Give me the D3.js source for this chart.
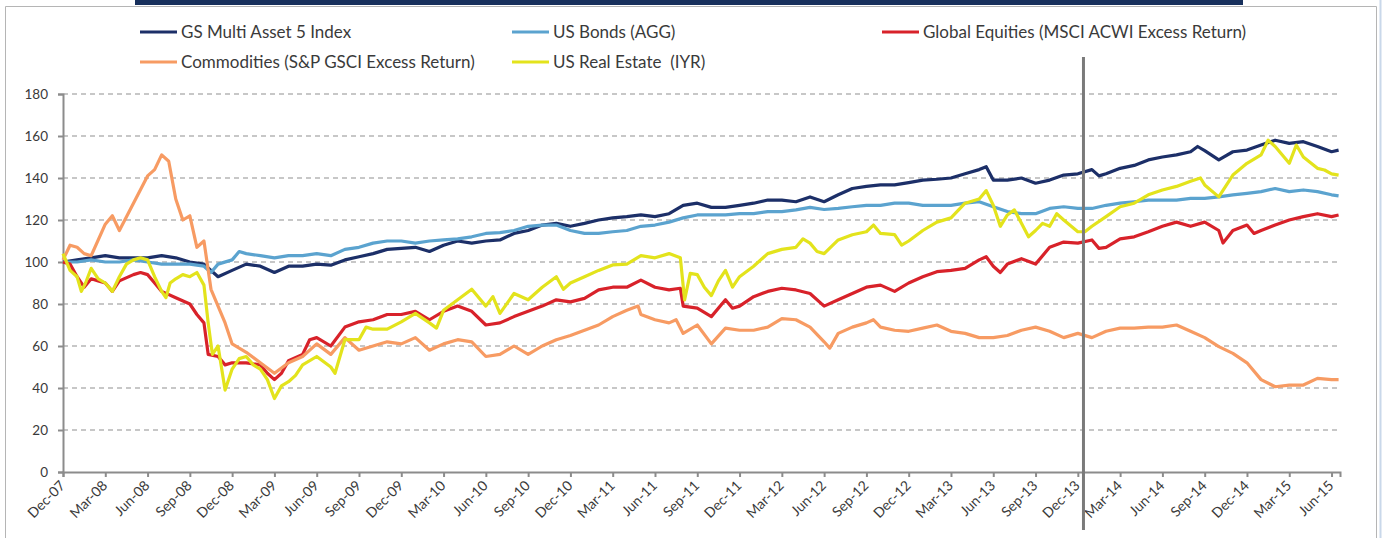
<!DOCTYPE html>
<html>
<head>
<meta charset="utf-8">
<script src="https://cdn.jsdelivr.net/npm/d3@7"></script>
<style>
  html, body { margin: 0; padding: 0; background: #fff; overflow: hidden; }
  svg { display: block; font-family: Lato, "Liberation Sans", sans-serif; }
</style>
</head>
<body>
<div id="chart"></div>
<script>
// month index 0 = Dec-07, quarterly ticks
const tickLabels = ["Dec-07", "Mar-08", "Jun-08", "Sep-08", "Dec-08", "Mar-09", "Jun-09", "Sep-09",
  "Dec-09", "Mar-10", "Jun-10", "Sep-10", "Dec-10", "Mar-11", "Jun-11", "Sep-11", "Dec-11",
  "Mar-12", "Jun-12", "Sep-12", "Dec-12", "Mar-13", "Jun-13", "Sep-13", "Dec-13", "Mar-14",
  "Jun-14", "Sep-14", "Dec-14", "Mar-15", "Jun-15"];
const yTicks = [0, 20, 40, 60, 80, 100, 120, 140, 160, 180];
const liveStart = 72.4; // vertical divider, month index

const seriesNames = ["GS Multi Asset 5 Index", "US Bonds (AGG)", "Global Equities (MSCI ACWI Excess Return)",
  "Commodities (S&P GSCI Excess Return)", "US Real Estate  (IYR)"];

const gsMulti = [[0,100],[1,101],[2,102],[3,103],[4,102],[5,102],[6,102],[7,103],[8,102],[9,100],[10,99],[11,93],[12,96],[13,99],[14,98],[15,95],[16,98],[17,98],[18,99],[19,98.5],[20,101],[21,102.5],[22,104],[23,106],[24,106.5],[25,107],[26,105],[27,108],[28,110],[29,109],[30,110],[31,110.5],[32,113.6],[33,115],[34,117.6],[35,118.4],[36,117],[37,118.4],[38,120],[39,121],[40,121.6],[41,122.4],[42,121.6],[43,123],[44,127],[45,128],[46,126],[47,126],[48,127],[49,128],[50,129.5],[51,129.5],[52,128.7],[53,131],[54,128.7],[55,132],[56,135],[57,136],[58,136.7],[59,136.7],[60,137.8],[61,139],[62,139.4],[63,140],[64,142],[65,144],[65.5,145.4],[66,139],[67,139],[68,140],[69,137.5],[70,139],[71,141.4],[72,142],[73,144],[73.5,141],[74,142],[75,144.6],[76,146],[77,148.6],[78,150],[79,151],[80,152.5],[80.5,155],[81,153],[82,148.6],[83,152.5],[84,153.3],[85,155.7],[86,158],[87,156.5],[88,157.3],[89,155],[90,152.5],[90.5,153.3]];

const usBonds = [[0,100],[1,100],[2,101],[3,100],[4,100],[5,101],[6,100],[7,99],[8,99],[9,99],[10,98],[10.5,95],[11,99],[12,101],[12.5,105],[13,104],[14,103],[15,102],[16,103],[17,103],[18,104],[19,103],[20,106],[21,107],[22,109],[23,110],[24,110],[25,109],[26,110],[27,110.5],[28,111],[29,112],[30,113.6],[31,114],[32,115],[33,117],[34,117.6],[35,117.6],[36,115],[37,113.6],[38,113.6],[39,114.4],[40,115],[41,117],[42,117.6],[43,119],[44,121],[45,122.4],[46,122.4],[47,122.4],[48,123],[49,123],[50,124],[51,124],[52,124.8],[53,126],[54,125],[55,125.5],[56,126.3],[57,127],[58,127],[59,128],[60,128],[61,127],[62,127],[63,127],[64,128],[65,128.7],[66,126.3],[67,124],[68,123],[69,123],[70,125.5],[71,126.3],[72,125.5],[73,125.5],[74,127],[75,128],[76,128.7],[77,129.5],[78,129.5],[79,129.5],[80,130.3],[81,130.3],[82,131],[83,132],[84,132.7],[85,133.5],[86,135],[87,133.5],[88,134.3],[89,133.5],[90,132],[90.5,131.5]];

const globalEquities = [[0,100],[0.5,99],[1,93],[1.5,88],[2,92],[2.5,91],[3,90],[3.5,86],[4,91],[5,94],[5.5,95],[6,94],[6.5,90],[7,86],[8,83],[9,80],[9.5,75],[10,71],[10.3,56],[11,55],[11.5,51],[12,52],[13,52],[14,51],[14.5,47],[15,44],[15.5,47],[16,53],[17,56],[17.5,63],[18,64],[19,60],[20,69],[21,71.5],[22,72.5],[23,75],[24,75],[25,76.5],[26,72.5],[27,76.5],[28,79],[29,76.5],[30,70],[31,71],[32,74],[33,76.5],[34,79],[35,82],[36,81],[37,82.7],[38,86.7],[39,88],[40,88],[41,91.4],[42,88],[43,86.7],[43.8,87.5],[44,79],[45,78],[46,74],[47,82],[47.5,78],[48,79],[49,83.5],[50,86],[51,87.5],[52,86.7],[53,85],[54,79],[55,82],[56,85],[57,88],[58,89],[59,86],[60,90],[61,93],[62,95.4],[63,96],[64,97],[65,101],[65.5,102.5],[66,98],[66.5,95],[67,99],[68,101.6],[69,99],[70,107],[71,109.5],[72,109],[73,110.5],[73.5,106.5],[74,107],[75,111],[76,112],[77,114.4],[78,117],[79,119],[80,117],[81,119],[82,115],[82.3,109],[83,115],[84,117.6],[84.5,113.6],[85,115],[86,117.6],[87,120],[88,121.6],[89,123],[90,121.6],[90.5,122.4]];

const commodities = [[0,101],[0.5,108],[1,107],[1.5,104],[2,103],[3,118],[3.5,122],[4,115],[5,128],[6,141],[6.5,144],[7,151],[7.5,148],[8,130],[8.5,120],[9,122],[9.5,107],[10,110],[10.5,87],[11,79],[11.5,71],[12,61],[13,57],[14,52],[15,47],[16,52],[17,55],[18,61],[19,56],[20,64],[21,58],[22,60],[23,62],[24,61],[25,64],[26,58],[27,61],[28,63],[29,62],[30,55],[31,56],[32,60],[33,56],[34,60],[35,63],[36,65],[37,67.5],[38,70],[39,74],[40,77],[40.8,79],[41,75],[42,72.5],[43,71],[43.5,72.5],[44,66],[45,70],[46,61],[47,68.5],[48,67.5],[49,67.5],[50,69],[51,73],[52,72.5],[53,69],[54,62],[54.4,59],[55,66],[56,69],[57,71],[57.5,72.5],[58,69],[59,67.5],[60,67],[61,68.5],[62,70],[63,67],[64,66],[65,64],[66,64],[67,65],[68,67.5],[69,69],[70,67],[71,64],[72,66],[73,64],[74,67],[75,68.5],[76,68.5],[77,69],[78,69],[79,70],[80,67],[81,64],[82,59.7],[83,56.5],[84,52],[85,44],[86,40.6],[87,41.4],[88,41.4],[89,44.6],[90,44],[90.5,44]];

const realEstate = [[0,104],[0.5,96],[1,93],[1.3,86],[1.6,90],[2,97],[2.5,92],[3,90],[3.5,86],[4,93],[4.5,99],[5,101],[5.5,102],[6,101],[6.5,93],[7,86],[7.3,83],[7.6,90],[8,92],[8.5,94],[9,93],[9.5,95],[10,89],[10.3,71],[10.6,56],[11,60],[11.5,39],[12,49],[12.5,54],[13,55],[13.5,51],[14,49],[14.5,44],[15,35],[15.5,41],[16,43],[16.5,46],[17,51],[18,55],[19,50],[19.3,47],[20,63],[21,63],[21.5,69],[22,68],[23,68],[24,71.5],[25,75.5],[26,71],[26.5,68.5],[27,77],[28,82],[29,87],[30,79],[30.5,83.5],[31,75.5],[32,85],[33,82],[34,88],[35,93],[35.5,87],[36,90],[37,93],[38,96],[39,98.6],[40,99],[41,103],[42,102],[43,104],[43.8,102],[44.1,82],[44.5,94.6],[45,94],[45.5,88],[46,84],[46.5,91],[47,96],[47.5,88],[48,93],[49,98],[50,104],[51,106],[52,107],[52.5,111],[53,109],[53.5,105],[54,104],[55,110.5],[56,113],[57,114.4],[57.5,117.6],[58,113.6],[59,113],[59.5,108],[60,110],[61,115],[62,119],[63,121],[64,128],[65,130],[65.5,134],[66,127],[66.5,117],[67,122.4],[67.5,124.8],[68,118.4],[68.5,112],[69,115],[69.5,118.4],[70,117],[70.5,123],[71,120],[72,114.4],[72.5,114.4],[73,117],[74,121.6],[75,126.3],[76,128],[77,132],[78,134.3],[79,136],[80,138.4],[80.7,140],[81,136.7],[82,131],[83,141.4],[84,147],[85,151],[85.5,158],[86,155],[87,147],[87.5,155.7],[88,150],[89,144.6],[89.5,143.8],[90,142],[90.5,141.4]];

const colors = ["#1c2f68", "#5ba3cf", "#d8222a", "#f79b63", "#e3e31c"];
const seriesData = [gsMulti, usBonds, globalEquities, commodities, realEstate];

const width = 1383;
const height = 538;
const margin = { top: 94, right: 43, bottom: 66, left: 63 };
const innerWidth = width - margin.left - margin.right;
const innerHeight = height - margin.top - margin.bottom;

const svg = d3.select("#chart")
  .append("svg")
  .attr("width", width)
  .attr("height", height);

// frame and header strip
svg.append("path")
  .attr("d", `M5.5,${height} V6.5 H1376.5 V${height}`)
  .attr("fill", "none")
  .attr("stroke", "#b5b5b5");
svg.append("line")
  .attr("x1", 1380.5).attr("x2", 1380.5).attr("y1", 0).attr("y2", height)
  .attr("stroke", "#c9d8ea").attr("stroke-width", 2);
svg.append("rect")
  .attr("x", 135).attr("y", 0)
  .attr("width", 1108).attr("height", 5)
  .attr("fill", "#17305c");

const chart = svg.append("g")
  .attr("transform", `translate(${margin.left}, ${margin.top})`);

const x = d3.scaleLinear()
  .domain([0, 90.6])
  .range([0, innerWidth]);

const y = d3.scaleLinear()
  .domain([0, 180])
  .range([innerHeight, 0]);

// gridlines
chart.append("g")
  .selectAll("line")
  .data(yTicks.filter((t) => t > 0))
  .enter()
  .append("line")
  .attr("x1", 0)
  .attr("x2", innerWidth)
  .attr("y1", (t) => y(t))
  .attr("y2", (t) => y(t))
  .attr("stroke", "#8f8f8f")
  .attr("stroke-width", 1)
  .attr("stroke-dasharray", "5,4");

chart.append("g")
  .call(d3.axisLeft(y).tickValues(yTicks).tickSize(5).tickPadding(10))
  .call((g) => g.selectAll(".domain, line").attr("stroke", "#8c8c8c").attr("stroke-width", 2))
  .call((g) => g.selectAll("text").attr("fill", "#3a3a3a").attr("font-size", 13.5).attr("font-family", "Lato"));

chart.append("g")
  .attr("transform", `translate(0, ${innerHeight})`)
  .call(
    d3.axisBottom(x)
      .tickValues(tickLabels.map((d, i) => i * 3))
      .tickFormat((d) => tickLabels[d / 3])
      .tickSize(5),
  )
  .call((g) => g.selectAll(".domain, line").attr("stroke", "#8c8c8c").attr("stroke-width", 2))
  .call((g) => g.selectAll("text")
    .attr("fill", "#3a3a3a")
    .attr("font-size", 14)
    .attr("font-family", "Lato")
    .attr("text-anchor", "end")
    .attr("x", 0)
    .attr("y", 0)
    .attr("dy", "0.35em")
    .attr("transform", "translate(-1, 11) rotate(-45)"));

const line = d3.line()
  .x((d) => x(d[0]))
  .y((d) => y(d[1]));

chart.selectAll("path.series")
  .data(seriesData)
  .enter()
  .append("path")
  .attr("class", "series")
  .attr("d", line)
  .attr("fill", "none")
  .attr("stroke", (d, i) => colors[i])
  .attr("stroke-width", 3.2)
  .attr("stroke-linejoin", "round");

// live-period divider
chart.append("line")
  .attr("x1", x(liveStart))
  .attr("x2", x(liveStart))
  .attr("y1", 57 - margin.top)
  .attr("y2", innerHeight + 58)
  .attr("stroke", "#7a7a7a")
  .attr("stroke-width", 3);

// legend
const legendPos = [[140, 32], [512, 32], [882, 32], [140, 62], [512, 62]];
const legend = svg.append("g")
  .selectAll("g")
  .data(seriesNames)
  .enter()
  .append("g")
  .attr("transform", (d, i) => `translate(${legendPos[i][0]}, ${legendPos[i][1]})`);

legend.append("line")
  .attr("x1", 0).attr("x2", 37)
  .attr("stroke", (d, i) => colors[i])
  .attr("stroke-width", 3);

legend.append("text")
  .attr("x", 41)
  .attr("dy", "0.35em")
  .attr("fill", "#3a3a3a")
  .attr("font-size", 17)
  .style("white-space", "pre")
  .text((d) => d);
</script>
</body>
</html>
